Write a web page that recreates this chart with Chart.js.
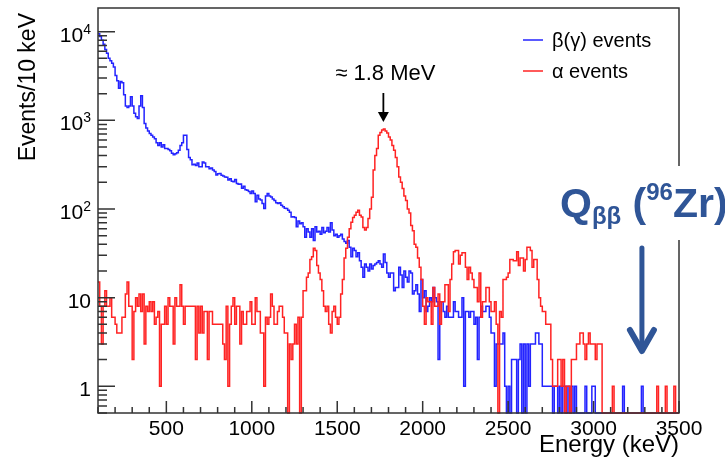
<!DOCTYPE html>
<html>
<head>
<meta charset="utf-8">
<script src="https://cdn.jsdelivr.net/npm/chart.js@4.4.1/dist/chart.umd.min.js"></script>
<style>
  html, body { margin: 0; padding: 0; background: #fff; }
  #wrap { width: 725px; height: 465px; }
</style>
</head>
<body>
<div id="wrap"><canvas id="spectrum" width="725" height="465"></canvas></div>
<script>
// Histogram binning (keV)
const binStart = 100;
const binWidth = 10;

// beta(gamma) events per 10 keV, bins starting at 100, 110, ... 3490 keV (one row = 100 keV)
const betaCounts = [
  9500, 8800, 8000, 7200, 6300, 5700, 5000, 4700, 4400, 4000,
  3200, 2800, 2300, 2750, 2650, 1950, 1450, 1400, 1450, 1850,
  1450, 1200, 1100, 1050, 1450, 1900, 1400, 920, 820, 760,
  710, 680, 650, 620, 560, 520, 560, 500, 530, 480,
  480, 470, 455, 425, 410, 420, 430, 460, 520, 560,
  680, 680, 470, 380, 360, 315, 320, 310, 330, 300,
  300, 340, 330, 300, 300, 285, 290, 275, 265, 242,
  250, 252, 240, 235, 230, 228, 212, 220, 205, 203,
  215, 194, 190, 192, 171, 180, 165, 163, 158, 150,
  160, 150, 121, 143, 130, 126, 115, 101, 140, 150,
  140, 137, 130, 125, 118, 115, 118, 110, 106, 102,
  101, 97, 92, 81, 82, 80, 63, 73, 68, 70,
  63, 48, 60, 55, 48, 60, 44, 63, 55, 56,
  52, 62, 54, 56, 62, 55, 70, 58, 50, 52,
  48, 50, 52, 46, 43, 41, 44, 37, 29, 36,
  34, 29, 32, 26, 22, 17, 24, 22, 20, 24,
  21, 23, 24, 25, 26, 24, 22, 31, 25, 19,
  17, 19, 19, 12, 13, 13, 22, 18, 13, 20,
  17, 15, 20, 19, 11, 12, 14, 11, 7, 16,
  10, 12, 7, 8, 10, 9, 13, 10, 9, 2,
  9, 9, 7, 6, 8, 6, 6, 6, 9, 7,
  7, 6, 6, 10, 1, 7, 7, 6, 7, 7,
  5, 6, 2, 6, 8, 7, 7, 8, 8, 6,
  4, 4, 1, 3, 3, 3, 3, 4, 1, 0,
  1, 0, 2, 2, 2, 0, 2, 3, 0, 3,
  0, 3, 1, 3, 3, 3, 4, 4, 3, 3,
  1, 1, 1, 1, 1, 1, 0, 1, 1, 0,
  1, 0, 1, 1, 0, 1, 0, 1, 0, 1,
  0, 0, 0, 0, 0, 1, 0, 0, 0, 1,
  1, 0, 0, 0, 0, 0, 0, 0, 0, 0,
  0, 0, 0, 0, 0, 0, 0, 1, 0, 0,
  0, 0, 0, 0, 0, 0, 0, 0, 1, 0,
  0, 0, 0, 0, 0, 0, 0, 0, 0, 0,
  0, 0, 0, 0, 0, 0, 0, 0, 0, 0
];

// alpha events per 10 keV, same bins
const alphaCounts = [
  15, 8, 3, 8, 12, 8, 8, 10, 6, 6,
  5, 4, 4, 4, 6, 6, 11, 15, 8, 8,
  2, 7, 10, 8, 11, 7, 11, 3, 8, 7,
  9, 7, 9, 5, 6, 7, 1, 5, 5, 8,
  5, 10, 8, 8, 3, 10, 8, 8, 14, 8,
  5, 8, 8, 8, 8, 8, 8, 2, 8, 4,
  8, 4, 7, 7, 2, 7, 7, 5, 5, 5,
  5, 5, 5, 3, 2, 8, 1, 5, 8, 10,
  5, 8, 8, 3, 7, 5, 5, 7, 7, 9,
  5, 5, 10, 7, 7, 4, 4, 1, 6, 5,
  6, 11, 8, 5, 5, 7, 8, 8, 6, 4,
  4, 0, 3, 2, 3, 5, 3, 6, 0, 6,
  12, 12, 17, 19, 27, 29, 36, 34, 23, 19,
  16, 12, 8, 7, 8, 5, 4, 7, 8, 6,
  5, 6, 11, 16, 28, 36, 48, 60, 71, 80,
  85, 92, 97, 85, 81, 62, 58, 62, 78, 100,
  136, 275, 400, 480, 680, 730, 780, 800, 760, 720,
  650, 600, 520, 460, 380, 300, 230, 200, 170, 140,
  125, 100, 90, 65, 57, 40, 37, 28, 22, 16,
  8, 5, 10, 9, 9, 5, 13, 8, 8, 11,
  5, 9, 9, 14, 14, 7, 16, 24, 33, 34,
  34, 24, 30, 32, 32, 22, 16, 22, 19, 16,
  13, 13, 9, 19, 6, 9, 9, 13, 13, 9,
  7, 7, 9, 5, 0, 7, 6, 16, 16, 17,
  19, 27, 27, 26, 26, 33, 23, 28, 28, 20,
  27, 37, 37, 34, 22, 27, 27, 16, 10, 8,
  7, 7, 5, 5, 5, 2, 1, 1, 1, 2,
  2, 1, 2, 0, 1, 1, 0, 2, 2, 2,
  3, 3, 4, 4, 3, 2, 3, 4, 3, 3,
  3, 2, 3, 3, 3, 0, 0, 0, 0, 0,
  0, 1, 0, 0, 0, 0, 0, 0, 0, 0,
  0, 0, 0, 0, 0, 0, 0, 0, 0, 0,
  0, 0, 0, 0, 0, 0, 0, 1, 0, 0,
  0, 0, 1, 0, 0, 0, 0, 1, 0, 0
];

const seriesLabels = ['β(γ) events', 'α events'];
const seriesColors = ['#2323ff', '#ff2323'];

// Axes
const xMin = 100, xMax = 3500;
const xLabelTicks = [500, 1000, 1500, 2000, 2500, 3000, 3500];
const yMin = 0.5, yMax = 18500;
const yDecades = [1, 10, 100, 1000, 10000];
const yDecadeLabels = ['1', '10', '10^2', '10^3', '10^4'];

// Annotations
const peakLabel = '≈ 1.8 MeV';
const peakEnergy = 1770;
const qEnergy = 3283;

const fontFamily = '"Liberation Sans", Arial, Helvetica, sans-serif';
const frameColor = '#333';
const qColor = '#2f5597';

// histogram points: value of bin i held from its left edge to the next one; empty bins sit on the frame
function toPoints(counts) {
  const pts = counts.map((c, i) => ({ x: binStart + i * binWidth, y: c > 0 ? c : yMin }));
  pts.push({ x: binStart + counts.length * binWidth, y: pts[pts.length - 1].y });
  return pts;
}

// minor + major log ticks
const yTickValues = [];
[0.1, 1, 10, 100, 1000, 10000].forEach(d => {
  for (let m = 1; m <= 9; m++) {
    const v = d * m;
    if (v >= yMin && v <= yMax) yTickValues.push(v);
  }
});

// ROOT-like frame: ticks inside, labels with exponents, legend and slide notes
const rootFrame = {
  id: 'rootFrame',
  afterDatasetsDraw(chart) {
    const { ctx, chartArea: a, scales: { x, y } } = chart;
    ctx.save();

    // frame + ticks
    ctx.strokeStyle = frameColor;
    ctx.lineWidth = 1.5;
    ctx.beginPath();
    x.ticks.forEach(t => {
      const px = x.getPixelForValue(t.value);
      const len = xLabelTicks.includes(t.value) ? 12 : 6;
      ctx.moveTo(px, a.bottom);
      ctx.lineTo(px, a.bottom - len);
    });
    y.ticks.forEach(t => {
      const py = y.getPixelForValue(t.value);
      const len = yDecades.includes(t.value) ? 17 : 9;
      ctx.moveTo(a.left, py);
      ctx.lineTo(a.left + len, py);
    });
    ctx.stroke();
    ctx.strokeRect(a.left, a.top, a.right - a.left, a.bottom - a.top);

    // y tick labels (10^n)
    ctx.fillStyle = '#000';
    ctx.textAlign = 'right';
    ctx.textBaseline = 'alphabetic';
    yDecades.forEach((v, i) => {
      const base = y.getPixelForValue(v) + 10;
      const [mant, exp] = yDecadeLabels[i].split('^');
      let right = a.left - 7;
      if (exp) {
        ctx.font = '14px ' + fontFamily;
        ctx.fillText(exp, right, base - 8);
        right -= ctx.measureText(exp).width;
      }
      ctx.font = '21px ' + fontFamily;
      ctx.fillText(mant, right, base);
    });

    // y axis title
    ctx.save();
    ctx.translate(29, a.top + 5);
    ctx.rotate(-Math.PI / 2);
    ctx.font = '23px ' + fontFamily;
    ctx.textAlign = 'right';
    ctx.textBaseline = 'middle';
    ctx.fillText('Events/10 keV', 0, 0);
    ctx.restore();

    // legend
    ctx.font = '20px ' + fontFamily;
    ctx.textAlign = 'left';
    ctx.textBaseline = 'alphabetic';
    chart.data.datasets.forEach((ds, i) => {
      const ly = a.top + 32 + i * 31;
      ctx.strokeStyle = ds.borderColor;
      ctx.lineWidth = 1.5;
      ctx.beginPath();
      ctx.moveTo(a.right - 156, ly);
      ctx.lineTo(a.right - 136, ly);
      ctx.stroke();
      ctx.fillStyle = '#000';
      ctx.fillText(ds.label, a.right - 127, ly + 7);
    });

    // 1.8 MeV peak marker
    const px = x.getPixelForValue(peakEnergy);
    ctx.font = '22px ' + fontFamily;
    ctx.textAlign = 'center';
    ctx.fillStyle = '#000';
    ctx.fillText(peakLabel, px + 2, 80);
    ctx.strokeStyle = '#000';
    ctx.lineWidth = 1.8;
    ctx.beginPath();
    ctx.moveTo(px, 93);
    ctx.lineTo(px, 114);
    ctx.stroke();
    ctx.beginPath();
    ctx.moveTo(px - 5.5, 112);
    ctx.lineTo(px + 5.5, 112);
    ctx.lineTo(px, 122);
    ctx.closePath();
    ctx.fill();

    // Q_bb (96Zr) note on top of the frame
    ctx.fillStyle = '#fff';
    ctx.fillRect(553, 166, 172, 74);
    ctx.fillStyle = qColor;
    ctx.textAlign = 'left';
    const parts = [
      { t: 'Q', size: 41, dy: 0 },
      { t: 'ββ', size: 24, dy: 7 },
      { t: ' (', size: 41, dy: 0 },
      { t: '96', size: 24, dy: -17 },
      { t: 'Zr)', size: 41, dy: 0 }
    ];
    let qx = 560;
    parts.forEach(p => {
      ctx.font = 'bold ' + p.size + 'px ' + fontFamily;
      ctx.fillText(p.t, qx, 217 + p.dy);
      qx += ctx.measureText(p.t).width;
    });

    const qx0 = x.getPixelForValue(qEnergy);
    ctx.strokeStyle = qColor;
    ctx.lineCap = 'round';
    ctx.lineJoin = 'round';
    ctx.lineWidth = 5;
    ctx.beginPath();
    ctx.moveTo(qx0, 248);
    ctx.lineTo(qx0, 350);
    ctx.stroke();
    ctx.lineWidth = 6;
    ctx.beginPath();
    ctx.moveTo(qx0 - 12, 330);
    ctx.lineTo(qx0, 351);
    ctx.lineTo(qx0 + 12, 330);
    ctx.stroke();

    ctx.restore();
  }
};

const lineClip = { left: 0, top: 0, right: 0, bottom: 2 };

new Chart(document.getElementById('spectrum'), {
  type: 'line',
  data: {
    datasets: [
      {
        label: seriesLabels[0],
        data: toPoints(betaCounts),
        borderColor: seriesColors[0],
        borderWidth: 1.5,
        stepped: true,
        pointRadius: 0,
        fill: false,
        order: 2,
        clip: lineClip
      },
      {
        label: seriesLabels[1],
        data: toPoints(alphaCounts),
        borderColor: seriesColors[1],
        borderWidth: 1.5,
        stepped: true,
        pointRadius: 0,
        fill: false,
        order: 1,
        clip: lineClip
      }
    ]
  },
  options: {
    responsive: false,
    animation: false,
    devicePixelRatio: 1,
    layout: { padding: { left: 0, right: 46, top: 8, bottom: 0 } },
    plugins: {
      legend: { display: false },
      tooltip: { enabled: false }
    },
    scales: {
      x: {
        type: 'linear',
        min: xMin,
        max: xMax,
        afterFit: s => { s.height = 52; },
        grid: { display: false, drawTicks: false },
        border: { display: false },
        ticks: {
          stepSize: 100,
          autoSkip: false,
          maxRotation: 0,
          padding: 4,
          color: '#000',
          font: { family: fontFamily, size: 21 },
          callback: v => xLabelTicks.includes(v) ? String(v) : ''
        },
        title: {
          display: true,
          text: 'Energy (keV)',
          align: 'end',
          color: '#000',
          font: { family: fontFamily, size: 24 },
          padding: { top: 0, bottom: 5 }
        }
      },
      y: {
        type: 'logarithmic',
        min: yMin,
        max: yMax,
        afterFit: s => { s.width = 98; },
        afterBuildTicks: s => { s.ticks = yTickValues.map(v => ({ value: v })); },
        grid: { display: false, drawTicks: false },
        border: { display: false },
        ticks: { display: false }
      }
    }
  },
  plugins: [rootFrame]
});
</script>
</body>
</html>
